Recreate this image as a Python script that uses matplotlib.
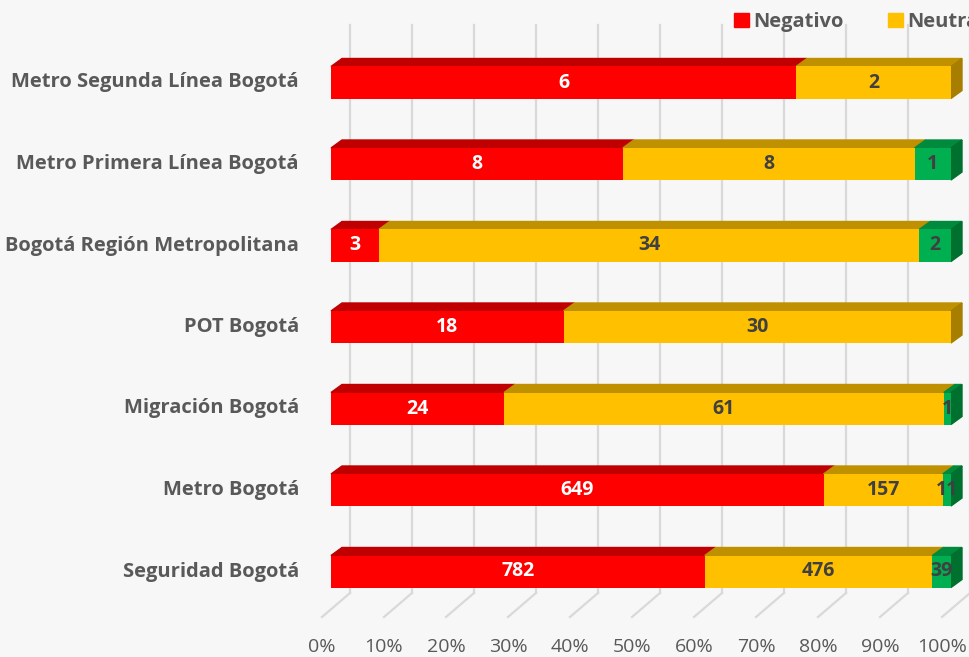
import matplotlib
matplotlib.use("Agg")
import matplotlib.pyplot as plt
from matplotlib.patches import Polygon, Patch

plt.rcParams['font.family'] = ['Open Sans', 'DejaVu Sans']

# categories from bottom to top
categories = ['Seguridad Bogotá', 'Metro Bogotá', 'Migración Bogotá', 'POT Bogotá',
              'Bogotá Región Metropolitana', 'Metro Primera Línea Bogotá',
              'Metro Segunda Línea Bogotá']
negativo = [782, 649, 24, 18, 3, 8, 6]
neutral = [476, 157, 61, 30, 34, 8, 2]
positivo = [39, 11, 1, 0, 2, 1, 0]
series_names = ['Negativo', 'Neutral', 'Positivo']
ticks = [0, 10, 20, 30, 40, 50, 60, 70, 80, 90, 100]

front = ['#FF0000', '#FFC000', '#00B050']
top = ['#C00000', '#BF9000', '#008A3E']
side = ['#A00000', '#A87E00', '#00702F']
txt_col = ['white', '#404040', '#404040']
grey = '#595959'

# pixel geometry -> data units (620 px per 100%, 81.5 px per category)
PX_X = 620.0
PX_Y = 81.5
ddx, ddy = 11 / PX_X, 8 / PX_Y          # bar depth
back = 19 / PX_X                         # back wall shift
flr = -9 / PX_X                          # floor front shift
bar_h = 32 / PX_Y

fig = plt.figure(figsize=(9.7, 6.57), dpi=100, facecolor='#F7F7F7')
ax = fig.add_axes([331 / 970, (657 - 612.25) / 657, 620 / 970, 570.5 / 657])
ax.set_xlim(0, 1)
ax.set_ylim(-0.5, 6.5)
ax.axis('off')

# gridlines: back wall + floor
y_top = 6 + (82.5 - 25) / PX_Y
y_fb = (571.5 - 593) / PX_Y
y_ff = (571.5 - 617) / PX_Y
for t in ticks:
    v = t / 100
    ax.plot([v + back, v + back], [y_fb, y_top], color='#D9D9D9', lw=1.6,
            clip_on=False, zorder=0)
    ax.plot([v + back, v + flr], [y_fb, y_ff], color='#D9D9D9', lw=1.6,
            clip_on=False, zorder=0)
    ax.text(v + flr, (571.5 - 647) / PX_Y, f'{t}%', ha='center', va='center',
            fontsize=14, color=grey)

for i, cat in enumerate(categories):
    vals = [negativo[i], neutral[i], positivo[i]]
    tot = sum(vals)
    left = 0
    yb, yt = i - bar_h / 2, i + bar_h / 2
    last = max(k for k in range(3) if vals[k] > 0)
    for k in range(3):
        if vals[k] == 0:
            continue
        w = vals[k] / tot
        r = left + w
        ax.barh(i, w, left=left, height=bar_h, color=front[k], zorder=3)
        ax.add_patch(Polygon([(left, yt), (r, yt), (r + ddx, yt + ddy), (left + ddx, yt + ddy)],
                             closed=True, color=top[k], zorder=2, clip_on=False))
        if k == last:
            ax.add_patch(Polygon([(r, yb), (r, yt), (r + ddx, yt + ddy), (r + ddx, yb + ddy)],
                                 closed=True, color=side[k], zorder=2, clip_on=False))
        ax.text(left + w / 2, i, str(vals[k]), ha='center', va='center',
                fontsize=14, fontweight='bold', color=txt_col[k], zorder=5)
        left = r
    ax.text(-32 / PX_X, i, cat, ha='right', va='center', fontsize=14.5,
            fontweight='bold', color=grey)

handles = [Patch(color=c) for c in front]
fig.legend(handles, series_names, loc='upper left', bbox_to_anchor=(724 / 970, 1 - 2 / 657),
           ncol=3, frameon=False, handlelength=0.75, handleheight=0.75,
           handletextpad=0.2, columnspacing=2.2, borderpad=0, labelcolor=grey,
           prop={'weight': 'bold', 'size': 14.5})

fig.savefig('out.png', dpi=100, facecolor=fig.get_facecolor())
